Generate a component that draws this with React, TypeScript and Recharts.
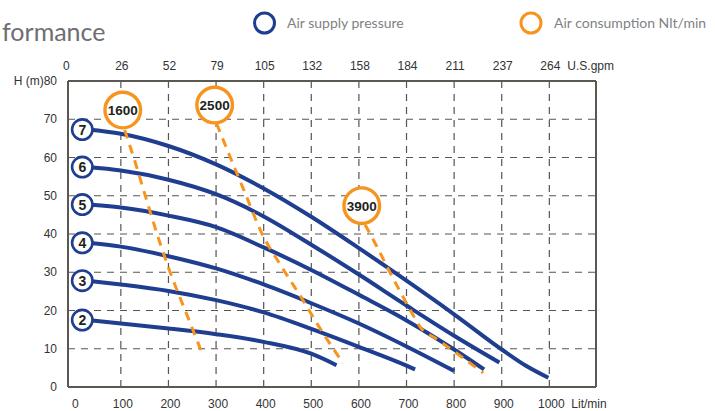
import { ComposedChart, Line, Scatter, XAxis, YAxis, CartesianGrid } from "recharts";

const BLUE = "#1f3e90";
const ORANGE = "#f7941d";
const FRAME = "#5b5751";
const TEXT = "#333333";
const AXIS_FONT = "'Liberation Sans', Arial, sans-serif";
const LABEL_FONT = "Lato, 'Open Sans', sans-serif";

// flow axis (Lit/min) and its U.S.gpm twin
const FLOW_TICKS = [0, 100, 200, 300, 400, 500, 600, 700, 800, 900, 1000];
const GPM_LABELS = ["0", "26", "52", "79", "105", "132", "158", "184", "211", "237", "264"];
const GRID_FLOW = [100, 200, 300, 400, 500, 600, 700, 800, 900, 1000];

// head axis (m) and its feet twin
const HEAD_TICKS = [0, 10, 20, 30, 40, 50, 60, 70, 80];
const FT_LABELS = ["0", "32,8", "65,6", "98,4", "131,2", "164,0", "196,8", "229,6", "262,4"];

// air supply pressure curves [flow, head]
const bar2 = [[30, 17.5], [100, 16.6], [200, 15.3], [300, 13.8], [400, 11.8], [500, 8.7], [553, 5.7]];
const bar3 = [[30, 27.8], [100, 26.8], [200, 25.1], [300, 22.7], [400, 19.5], [500, 15.2], [600, 10.5], [700, 5.6], [718, 4.6]];
const bar4 = [[30, 37.7], [100, 36.7], [200, 34.2], [300, 31.0], [400, 26.8], [500, 21.9], [600, 16.6], [700, 10.6], [800, 4.2]];
const bar5 = [[30, 47.7], [100, 46.9], [200, 44.8], [300, 41.8], [400, 36.5], [500, 30.6], [600, 24.1], [700, 17.4], [800, 9.8], [863, 4.6]];
const bar6 = [[30, 57.5], [100, 56.6], [200, 54.2], [300, 50.4], [400, 44.6], [500, 37.2], [600, 29.4], [700, 21.3], [800, 13.4], [895, 6.4]];
const bar7 = [[30, 67.3], [100, 66.2], [200, 63.0], [300, 58.2], [400, 51.9], [500, 44.5], [600, 36.3], [700, 27.8], [800, 19.0], [900, 9.8], [950, 5.6], [998, 2.4]];

// air consumption lines (Nlt/min)
const air1600 = [[108, 67.2], [130, 58.8], [155, 48.5], [180, 38.5], [205, 29.5], [240, 18.5], [272, 8.4]];
const air2500 = [[301, 68.9], [330, 60], [360, 51], [395, 40.5], [440, 31], [480, 23.2], [520, 15], [567, 6.2]];
const air3900 = [[613, 42.4], [640, 36.2], [665, 30], [690, 24.2], [712, 19.2], [730, 15.5], [760, 12.8], [800, 9.3], [861, 3.7]];

const barLabels = ["2", "3", "4", "5", "6", "7"];
const barStart = [17.5, 27.8, 37.7, 47.7, 57.5, 67.3];
const airLabels = ["1600", "2500", "3900"];
const airBadgeFlow = [104, 297, 606];
const airBadgeHead = [72.4, 73.7, 47.4];

const pts = (arr: number[][]) => arr.map(([q, h]) => ({ q, h }));

const barBadges = barLabels.map((label, i) => ({ q: 19, h: barStart[i], label }));
const airBadges = airLabels.map((label, i) => ({ q: airBadgeFlow[i], h: airBadgeHead[i], label }));

const DOMAIN_X: [number, number] = [-11, 1098];

function BottomTick(props: any) {
  const { x, payload, index } = props;
  const last = index === FLOW_TICKS.length - 1;
  return (
    <g>
      <text x={x + 2} y={404} dy="0.35em" textAnchor="middle" fontSize={12} fontFamily={AXIS_FONT} fill={TEXT}>
        {payload.value}
      </text>
      {last && (
        <text x={x + 22} y={404} dy="0.35em" textAnchor="start" fontSize={12} fontFamily={AXIS_FONT} fill={TEXT}>
          Lit/min
        </text>
      )}
    </g>
  );
}

function TopTick(props: any) {
  const { x, index } = props;
  const last = index === GPM_LABELS.length - 1;
  return (
    <g>
      <text x={index === 0 ? x - 7 : x + 1} y={66} dy="0.35em" textAnchor="middle" fontSize={12} fontFamily={AXIS_FONT} fill={TEXT}>
        {GPM_LABELS[index]}
      </text>
      {last && (
        <text x={x + 18} y={66} dy="0.35em" textAnchor="start" fontSize={12} fontFamily={AXIS_FONT} fill={TEXT}>
          U.S.gpm
        </text>
      )}
    </g>
  );
}

function LeftTick(props: any) {
  const { y, payload } = props;
  return (
    <text x={57} y={y} dy="0.35em" textAnchor="end" fontSize={12} fontFamily={AXIS_FONT} fill={TEXT}>
      {payload.value === 80 ? "H (m)80" : payload.value}
    </text>
  );
}

function RightTick(props: any) {
  const { y, index } = props;
  const last = index === FT_LABELS.length - 1;
  return (
    <text x={611} y={y} dy="0.35em" textAnchor="start" fontSize={12} fontFamily={AXIS_FONT} fill={TEXT}>
      {FT_LABELS[index] + (last ? " H(ft)" : "")}
    </text>
  );
}

function BarBadge(props: any) {
  const { cx, cy, payload } = props;
  return (
    <g>
      <circle cx={cx} cy={cy} r={10.2} fill="#fff" stroke={BLUE} strokeWidth={2.6} />
      <text x={cx} y={cy} dy="0.36em" textAnchor="middle" fontSize={14} fontWeight="bold" fontFamily={AXIS_FONT} fill="#231f20">
        {payload.label}
      </text>
    </g>
  );
}

function AirBadge(props: any) {
  const { cx, cy, payload } = props;
  return (
    <g>
      <circle cx={cx} cy={cy} r={17.8} fill="#fff" stroke={ORANGE} strokeWidth={3.4} />
      <text x={cx} y={cy} dy="0.36em" textAnchor="middle" fontSize={13.5} fontWeight="bold" fontFamily={AXIS_FONT} fill="#231f20">
        {payload.label}
      </text>
    </g>
  );
}

const barCurves = [bar2, bar3, bar4, bar5, bar6, bar7];
const airCurves = [air1600, air2500, air3900];

export default function App() {
  return (
    <div style={{ position: "fixed", left: 0, top: 0, width: 715, height: 411, background: "#fff" }}>
      <ComposedChart width={715} height={411} margin={{ top: 0, right: 0, bottom: 0, left: 0 }}>
        <XAxis
          type="number"
          dataKey="q"
          domain={DOMAIN_X}
          ticks={FLOW_TICKS}
          tick={BottomTick}
          tickLine={false}
          axisLine={{ stroke: FRAME, strokeWidth: 2 }}
          height={24}
          allowDataOverflow
        />
        <XAxis
          xAxisId="top"
          orientation="top"
          type="number"
          dataKey="q"
          domain={DOMAIN_X}
          ticks={FLOW_TICKS}
          tick={TopTick}
          tickLine={false}
          axisLine={{ stroke: FRAME, strokeWidth: 2 }}
          height={81}
          allowDataOverflow
        />
        <XAxis xAxisId="grid" hide type="number" dataKey="q" domain={DOMAIN_X} ticks={GRID_FLOW} allowDataOverflow />
        <YAxis
          type="number"
          domain={[0, 80]}
          ticks={HEAD_TICKS}
          tick={LeftTick}
          tickLine={false}
          axisLine={{ stroke: FRAME, strokeWidth: 2 }}
          width={68}
        />
        <YAxis
          yAxisId="right"
          orientation="right"
          type="number"
          domain={[0, 80]}
          ticks={HEAD_TICKS}
          tick={RightTick}
          tickLine={false}
          axisLine={{ stroke: FRAME, strokeWidth: 2 }}
          width={119}
        />
        <CartesianGrid xAxisId="grid" stroke="#555" strokeWidth={1.2} strokeDasharray="7 6" />

        {barCurves.map((c, i) => (
          <Line
            key={"bar" + i}
            data={pts(c)}
            dataKey="h"
            type="monotone"
            stroke={BLUE}
            strokeWidth={4}
            dot={false}
            activeDot={false}
            isAnimationActive={false}
          />
        ))}
        {airCurves.map((c, i) => (
          <Line
            key={"air" + i}
            data={pts(c)}
            dataKey="h"
            type="monotone"
            stroke={ORANGE}
            strokeWidth={3}
            strokeDasharray="9 7"
            dot={false}
            activeDot={false}
            isAnimationActive={false}
          />
        ))}
        <Scatter data={barBadges} dataKey="h" shape={BarBadge} isAnimationActive={false} />
        <Scatter data={airBadges} dataKey="h" shape={AirBadge} isAnimationActive={false} />
      </ComposedChart>

      <svg width={715} height={411} style={{ position: "absolute", left: 0, top: 0, pointerEvents: "none" }}>
        <text x={2} y={41} fontSize={25} fontFamily={LABEL_FONT} fill="#6d6e71">
          formance
        </text>
        <circle cx={264.5} cy={23} r={10} fill="none" stroke={BLUE} strokeWidth={3} />
        <text x={287} y={28} fontSize={14} fontFamily={LABEL_FONT} fill="#808285">
          Air supply pressure
        </text>
        <circle cx={531} cy={23} r={10} fill="none" stroke={ORANGE} strokeWidth={3} />
        <text x={554} y={28} fontSize={14} fontFamily={LABEL_FONT} fill="#808285">
          Air consumption Nlt/min
        </text>
      </svg>
    </div>
  );
}
